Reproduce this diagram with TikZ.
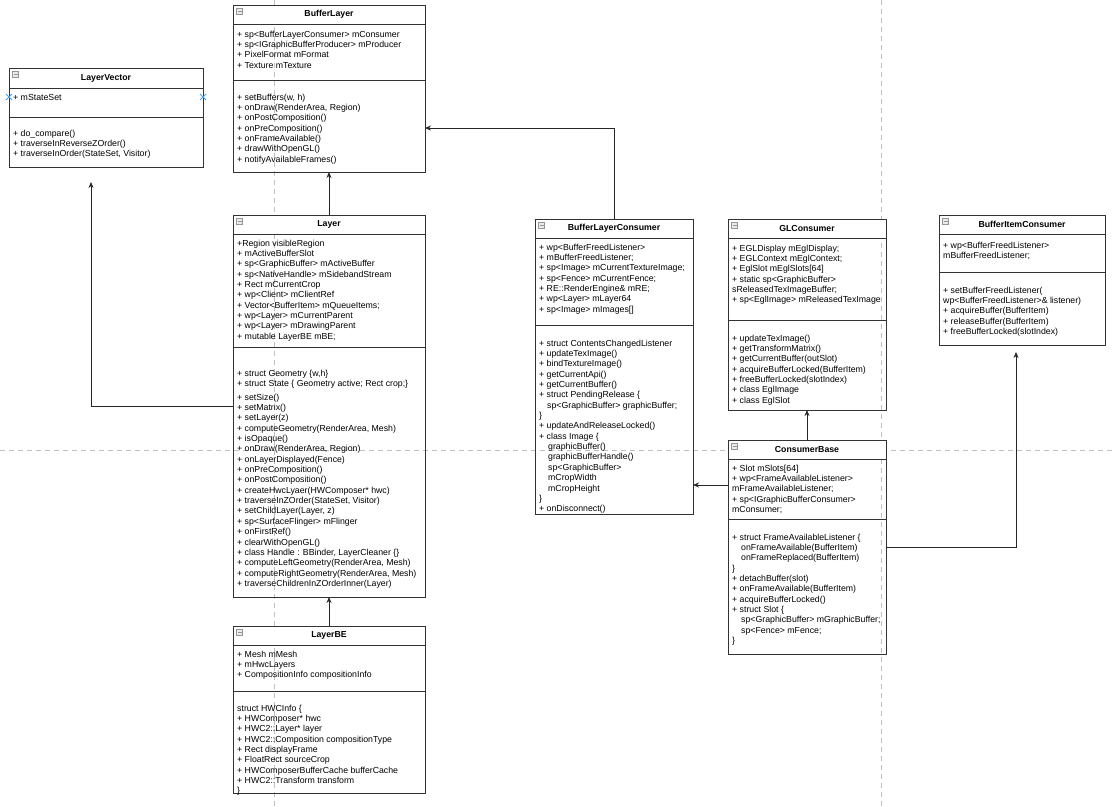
\documentclass[tikz,border=0pt]{standalone}
\usepackage{fontspec}
\setmainfont{Liberation Sans}
\usetikzlibrary{arrows.meta}
\definecolor{xblue}{RGB}{70,160,235}
\definecolor{icon}{RGB}{150,150,150}
\begin{document}
\begin{tikzpicture}[x=1pt,y=1pt,
  cls/.style={draw=black!80, line width=0.7pt, inner sep=0pt, outer sep=0pt, anchor=north west},
  hdr/.style={fill=white},
  ttl/.style={font=\fontsize{8.75}{10.35}\selectfont\bfseries, inner sep=0pt},
  txt/.style={font=\fontsize{8.75}{10.35}\selectfont, align=left, inner sep=0pt, anchor=north west},
  sepl/.style={draw=black!80, line width=0.7pt},
  arr/.style={draw=black!85, line width=0.7pt, -{Stealth[length=6pt,width=5pt]}},
  guide/.style={draw=black!25, line width=0.7pt, dash pattern=on 5pt off 4pt},
  ico/.style={draw=icon, fill=black!8, line width=0.5pt},
]
\useasboundingbox (0,0) rectangle (1113,-806);
\fill[white] (0,0) rectangle (1113,-806);

% ---------------- guides (behind the boxes)
\draw[guide] (274.5,0) -- (274.5,-806);
\draw[guide] (881.5,0) -- (881.5,-806);
\draw[guide] (0,-450) -- (1113,-450);

% ---------------- header fills
\fill[hdr] (9,-68) rectangle (203,-88);
\fill[hdr] (233,-5) rectangle (425,-24);
\fill[hdr] (233,-215) rectangle (425,-234);
\fill[hdr] (233,-626) rectangle (425,-645);
\fill[hdr] (535,-219) rectangle (693,-238);
\fill[hdr] (728,-219) rectangle (886,-238);
\fill[hdr] (728,-440) rectangle (886,-459);
\fill[hdr] (939,-215) rectangle (1105,-234);

% ---------------- LayerVector
\node[cls, minimum width=194pt, minimum height=99pt] (lv) at (9,-68) {};
\draw[sepl] (9,-88) -- (203,-88);
\draw[sepl] (9,-117) -- (203,-117);
\draw[ico] (12.5,-71.5) rectangle (18.5,-77.5); \draw[icon,line width=0.6pt] (13.5,-74.5) -- (17.5,-74.5);
\node[ttl] (lvt) at (106,-78) {LayerVector};
\node[txt] (lva) at (13,-92.65) {\strut+ mStateSet};
\node[txt] (lvm) at (13,-128.65) {\strut+ do\_compare()\\+ traverseInReverseZOrder()\\+ traverseInOrder(StateSet, Visitor)};
\draw[xblue, line width=0.8pt] (6,-94) -- (12,-100) (6,-100) -- (12,-94);
\draw[xblue, line width=0.8pt] (200,-94) -- (206,-100) (200,-100) -- (206,-94);

% ---------------- BufferLayer
\node[cls, minimum width=192pt, minimum height=167pt] (bl) at (233,-5) {};
\draw[sepl] (233,-24) -- (425,-24);
\draw[sepl] (233,-80) -- (425,-80);
\draw[ico] (236.5,-8.5) rectangle (242.5,-14.5); \draw[icon,line width=0.6pt] (237.5,-11.5) -- (241.5,-11.5);
\node[ttl] (blt) at (329,-14.5) {BufferLayer};
\node[txt] (bla) at (237,-29.65) {\strut+ sp<BufferLayerConsumer> mConsumer\\+ sp<IGraphicBufferProducer> mProducer\\+ PixelFormat mFormat\\+ Texture mTexture};
\node[txt] (blm) at (237,-92.65) {\strut+ setBuffers(w, h)\\+ onDraw(RenderArea, Region)\\+ onPostComposition()\\+ onPreComposition()\\+ onFrameAvailable()\\+ drawWithOpenGL()\\+ notifyAvailableFrames()};

% ---------------- Layer
\node[cls, minimum width=192pt, minimum height=382pt] (ly) at (233,-215) {};
\draw[sepl] (233,-234) -- (425,-234);
\draw[sepl] (233,-347) -- (425,-347);
\draw[ico] (236.5,-218.5) rectangle (242.5,-224.5); \draw[icon,line width=0.6pt] (237.5,-221.5) -- (241.5,-221.5);
\node[ttl] (lyt) at (329,-224.5) {Layer};
\node[txt] (lya) at (237,-238.65) {\strut+Region visibleRegion\\+ mActiveBufferSlot\\+ sp<GraphicBuffer> mActiveBuffer\\+ sp<NativeHandle> mSidebandStream\\+ Rect mCurrentCrop\\+ wp<Client> mClientRef\\+ Vector<BufferItem> mQueueItems;\\+ wp<Layer> mCurrentParent\\+ wp<Layer> mDrawingParent\\+ mutable LayerBE mBE;};
\node[txt] (lym) at (237,-368.65) {\strut+ struct Geometry \{w,h\}\\+ struct State \{ Geometry active; Rect crop;\}};
\node[txt] (lyn) at (237,-392.65) {\strut+ setSize()\\+ setMatrix()\\+ setLayer(z)\\+ computeGeometry(RenderArea, Mesh)\\+ isOpaque()\\+ onDraw(RenderArea, Region)\\+ onLayerDisplayed(Fence)\\+ onPreComposition()\\+ onPostComposition()\\+ createHwcLyaer(HWComposer* hwc)\\+ traverseInZOrder(StateSet, Visitor)\\+ setChildLayer(Layer, z)\\+ sp<SurfaceFlinger> mFlinger\\+ onFirstRef()\\+ clearWithOpenGL()\\+ class Handle : BBinder, LayerCleaner \{\}\\+ computeLeftGeometry(RenderArea, Mesh)\\+ computeRightGeometry(RenderArea, Mesh)\\+ traverseChildrenInZOrderInner(Layer)};

% ---------------- LayerBE
\node[cls, minimum width=192pt, minimum height=167pt] (lbe) at (233,-626) {};
\draw[sepl] (233,-645) -- (425,-645);
\draw[sepl] (233,-691) -- (425,-691);
\draw[ico] (236.5,-629.5) rectangle (242.5,-635.5); \draw[icon,line width=0.6pt] (237.5,-632.5) -- (241.5,-632.5);
\node[ttl] (lbet) at (329,-635.5) {LayerBE};
\node[txt] (lbea) at (237,-649.65) {\strut+ Mesh mMesh\\+ mHwcLayers\\+ CompositionInfo compositionInfo};
\node[txt] (lbem) at (237,-703.65) {\strut struct HWCInfo \{\\+ HWComposer* hwc\\+ HWC2::Layer* layer\\+ HWC2::Composition compositionType\\+ Rect displayFrame\\+ FloatRect sourceCrop\\+ HWComposerBufferCache bufferCache\\+ HWC2::Transform transform\\\}};

% ---------------- BufferLayerConsumer
\node[cls, minimum width=158pt, minimum height=295pt] (blc) at (535,-219) {};
\draw[sepl] (535,-238) -- (693,-238);
\draw[sepl] (535,-325) -- (693,-325);
\draw[ico] (538.5,-222.5) rectangle (544.5,-228.5); \draw[icon,line width=0.6pt] (539.5,-225.5) -- (543.5,-225.5);
\node[ttl] (blct) at (614,-228.5) {BufferLayerConsumer};
\node[txt] (blca) at (539,-242.65) {\strut+ wp<BufferFreedListener>\\+ mBufferFreedListener;\\+ sp<Image> mCurrentTextureImage;\\+ sp<Fence> mCurrentFence;\\+ RE::RenderEngine\& mRE;\\+ wp<Layer> mLayer64\\+ sp<Image> mImages[]};
\node[txt] (blcm) at (539,-338.65) {\strut+ struct ContentsChangedListener\\+ updateTexImage()\\+ bindTextureImage()\\+ getCurrentApi()\\+ getCurrentBuffer()\\+ struct PendingRelease \{\\\hspace*{8pt}sp<GraphicBuffer> graphicBuffer;\\\}\\+ updateAndReleaseLocked()\\+ class Image \{\\\hspace*{9pt}graphicBuffer()\\\hspace*{9pt}graphicBufferHandle()\\\hspace*{9pt}sp<GraphicBuffer>\\\hspace*{9pt}mCropWidth\\\hspace*{9pt}mCropHeight\\\}\\+ onDisconnect()};

% ---------------- GLConsumer
\node[cls, minimum width=158pt, minimum height=191pt] (gl) at (728,-219) {};
\draw[sepl] (728,-238) -- (886,-238);
\draw[sepl] (728,-320) -- (886,-320);
\draw[ico] (731.5,-222.5) rectangle (737.5,-228.5); \draw[icon,line width=0.6pt] (732.5,-225.5) -- (736.5,-225.5);
\node[ttl] (glt) at (807,-228.5) {GLConsumer};
\node[txt] (gla) at (732,-243.65) {\strut+ EGLDisplay mEglDisplay;\\+ EGLContext mEglContext;\\+ EglSlot mEglSlots[64]\\+ static sp<GraphicBuffer>\\sReleasedTexImageBuffer;\\+ sp<EglImage> mReleasedTexImage};
\node[txt] (glm) at (732,-333.65) {\strut+ updateTexImage()\\+ getTransformMatrix()\\+ getCurrentBuffer(outSlot)\\+ acquireBufferLocked(BufferItem)\\+ freeBufferLocked(slotIndex)\\+ class EglImage\\+ class EglSlot};

% ---------------- ConsumerBase
\node[cls, minimum width=158pt, minimum height=214pt] (cb) at (728,-440) {};
\draw[sepl] (728,-459) -- (886,-459);
\draw[sepl] (728,-519) -- (886,-519);
\draw[ico] (731.5,-443.5) rectangle (737.5,-449.5); \draw[icon,line width=0.6pt] (732.5,-446.5) -- (736.5,-446.5);
\node[ttl] (cbt) at (807,-449.5) {ConsumerBase};
\node[txt] (cba) at (732,-463.65) {\strut+ Slot mSlots[64]\\+ wp<FrameAvailableListener>\\mFrameAvailableListener;\\+ sp<IGraphicBufferConsumer>\\mConsumer;};
\node[txt] (cbm) at (732,-532.65) {\strut+ struct FrameAvailableListener \{\\\hspace*{9pt}onFrameAvailable(BufferItem)\\\hspace*{9pt}onFrameReplaced(BufferItem)\\\}\\+ detachBuffer(slot)\\+ onFrameAvailable(BufferItem)\\+ acquireBufferLocked()\\+ struct Slot \{\\\hspace*{9pt}sp<GraphicBuffer> mGraphicBuffer;\\\hspace*{9pt}sp<Fence> mFence;\\\}};

% ---------------- BufferItemConsumer
\node[cls, minimum width=166pt, minimum height=130pt] (bic) at (939,-215) {};
\draw[sepl] (939,-234) -- (1105,-234);
\draw[sepl] (939,-272) -- (1105,-272);
\draw[ico] (942.5,-218.5) rectangle (948.5,-224.5); \draw[icon,line width=0.6pt] (943.5,-221.5) -- (947.5,-221.5);
\node[ttl] (bict) at (1022,-224.5) {BufferItemConsumer};
\node[txt] (bica) at (943,-240.65) {\strut+ wp<BufferFreedListener>\\mBufferFreedListener;};
\node[txt] (bicm) at (943,-285.65) {\strut+ setBufferFreedListener(\\wp<BufferFreedListener>\& listener)\\+ acquireBuffer(BufferItem)\\+ releaseBuffer(BufferItem)\\+ freeBufferLocked(slotIndex)};

% ---------------- connectors
\coordinate (blin) at ([yshift=-39.5pt]bl.east);
\coordinate (lvtip) at (91,-182);
\coordinate (cbout) at ([yshift=62pt]cb.west);
\coordinate (bictip) at (1016,-352);
\draw[arr] (ly.north) -- (bl.south);
\draw[arr] (lbe.north) -- (ly.south);
\draw[arr] (ly.west) -| (lvtip);
\draw[arr] (blc.north) |- (blin);
\draw[arr] (cbout) -- (cbout -| blc.east);
\draw[arr] (cb.north) -- (gl.south);
\draw[arr] (cb.east) -| (bictip);
\end{tikzpicture}
\end{document}
